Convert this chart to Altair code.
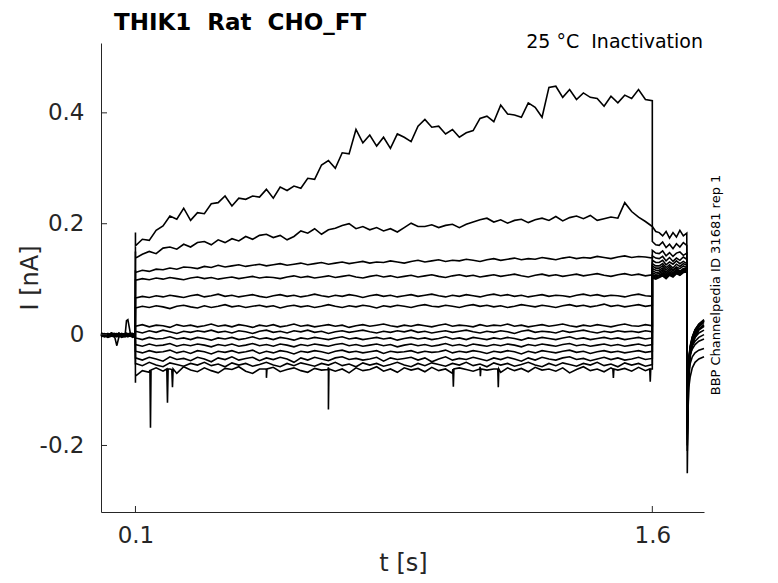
import altair as alt
import pandas as pd

# ---------------- time grids (ms) ----------------
t_pre_ms = [0, 10, 20, 30, 40, 46, 52, 60, 70, 74, 78, 85, 92, 99.5]
t_main_ms = [100, 120, 140, 160, 180, 200, 220, 240, 260, 280,
             300, 320, 340, 360, 380, 400, 420, 440, 460, 480,
             500, 520, 540, 560, 580, 600, 620, 640, 660, 680,
             700, 720, 740, 760, 780, 800, 820, 840, 860, 880,
             900, 920, 940, 960, 980, 1000, 1020, 1040, 1060, 1080,
             1100, 1120, 1140, 1160, 1180, 1200, 1220, 1240, 1260, 1280,
             1300, 1320, 1340, 1360, 1380, 1400, 1420, 1440, 1460, 1480,
             1500, 1520, 1540, 1560, 1580, 1600]
t_post_ms = [1600, 1610, 1620, 1630, 1640, 1650, 1660, 1670, 1680, 1690, 1700]
t_tail_ms = [1701.5, 1703.5, 1706, 1710, 1716, 1724, 1735, 1750]

# ---------------- sweep currents during the 0.1-1.6 s step (pA) ----------------
s01_main = [160,172,170,188,196,214,208,228,206,220,
            218,236,238,250,232,246,244,250,248,262,
            246,266,260,268,264,282,280,306,314,300,
            328,326,370,346,360,340,356,336,362,356,
            348,376,388,374,376,362,370,356,364,368,
            390,394,384,414,398,396,392,418,410,392,
            446,448,428,442,424,436,428,426,412,430,
            418,432,426,442,424,422]
s02_main = [138,145,150,146,156,158,154,163,158,166,
            168,162,171,166,173,169,177,172,179,181,
            175,179,171,177,187,183,191,181,189,192,
            197,200,191,195,189,193,187,191,185,193,
            201,195,195,198,193,197,199,193,199,203,
            207,210,203,207,201,206,208,202,207,210,
            206,213,205,211,214,209,215,206,209,212,
            210,238,222,212,204,195]
s03_main = [112,116,114,118,117,120,118,122,121,119,
            123,121,125,122,124,126,123,125,127,124,
            126,128,125,127,129,126,128,130,127,129,
            131,128,130,132,129,131,130,133,131,129,
            132,134,131,133,135,132,134,133,136,134,
            132,135,137,134,136,138,135,137,136,139,
            137,135,138,140,137,139,138,141,139,137,
            140,142,139,141,140,138]
s04_main = [98,101,99,102,100,103,101,99,102,104,
            101,103,100,102,104,101,103,105,102,104,
            103,101,104,106,103,105,102,104,106,103,
            105,107,104,102,105,107,104,106,103,105,
            107,104,106,108,105,103,106,108,105,107,
            104,106,108,105,107,109,106,104,107,109,
            106,108,105,107,109,106,108,110,107,105,
            108,110,107,109,106,108]
s05_main = [66,69,67,70,68,71,69,67,70,72,
            68,70,73,69,71,68,70,72,69,67,
            70,72,69,71,68,70,73,70,68,71,
            69,72,70,67,70,72,69,71,68,70,
            72,69,71,73,70,68,71,69,72,70,
            68,71,73,70,72,69,71,68,70,72,
            69,71,70,68,71,73,70,72,69,71,
            70,68,71,73,70,69]
s06_main = [48,51,49,52,50,47,51,53,50,48,
            52,49,51,54,50,52,49,51,53,50,
            52,48,51,53,50,52,49,51,54,51,
            49,52,50,53,51,48,52,50,53,51,
            49,52,54,51,50,53,51,49,52,54,
            51,53,50,52,49,51,54,52,50,53,
            51,49,52,54,51,53,50,52,55,51,
            53,50,52,54,51,53]
s07_main = [15,18,14,17,16,13,18,15,17,14,
            16,19,15,17,14,18,16,13,17,15,
            18,14,16,19,15,17,14,16,18,15,
            17,13,16,18,15,17,19,16,14,17,
            15,18,16,14,17,19,15,17,16,14,
            18,15,17,16,19,15,17,14,16,18,
            15,17,19,16,14,17,15,18,16,14,
            17,19,16,15,18,16]
s08_main = [6,3,7,4,8,5,2,6,4,7,
            5,8,4,6,3,7,5,2,6,8,
            4,6,3,7,5,8,4,6,2,5,
            7,4,6,8,5,3,6,4,7,5,
            8,4,6,3,5,7,4,6,8,5,
            3,6,4,7,5,2,6,8,4,6,
            5,3,7,4,6,8,5,3,6,4,
            7,5,6,4,7,5]
s09_main = [-6,-9,-5,-8,-7,-4,-8,-6,-9,-5,
            -7,-10,-6,-8,-5,-9,-7,-4,-8,-6,
            -9,-5,-7,-10,-6,-8,-5,-7,-9,-6,
            -4,-8,-6,-9,-7,-5,-8,-6,-10,-7,
            -5,-8,-6,-9,-7,-4,-8,-6,-9,-5,
            -7,-9,-6,-8,-5,-7,-10,-6,-8,-5,
            -7,-9,-6,-4,-8,-6,-9,-7,-5,-8,
            -6,-9,-7,-5,-8,-6]
s10_main = [-18,-21,-17,-20,-19,-16,-21,-18,-20,-17,
            -19,-22,-18,-20,-17,-21,-19,-16,-20,-18,
            -21,-17,-19,-22,-18,-20,-17,-19,-21,-18,
            -16,-20,-18,-21,-19,-17,-20,-18,-22,-19,
            -17,-20,-18,-21,-19,-16,-20,-18,-21,-17,
            -19,-21,-18,-20,-17,-19,-22,-18,-20,-17,
            -19,-21,-18,-16,-20,-18,-21,-19,-17,-20,
            -18,-21,-19,-17,-20,-18]
s11_main = [-30,-33,-29,-32,-31,-28,-33,-30,-34,-29,
            -31,-35,-30,-32,-29,-33,-31,-28,-34,-30,
            -33,-29,-31,-35,-30,-32,-29,-31,-34,-30,
            -28,-32,-30,-33,-31,-29,-34,-30,-32,-31,
            -29,-33,-30,-32,-31,-28,-33,-30,-32,-29,
            -31,-34,-30,-32,-29,-31,-35,-30,-33,-29,
            -31,-33,-30,-28,-32,-30,-34,-31,-29,-32,
            -30,-33,-31,-29,-32,-30]
s12_main = [-42,-46,-41,-44,-48,-40,-45,-43,-47,-41,
            -44,-49,-42,-45,-40,-46,-43,-41,-47,-42,
            -45,-41,-44,-50,-42,-46,-41,-44,-47,-42,
            -40,-45,-43,-46,-44,-41,-48,-42,-45,-43,
            -41,-46,-42,-49,-44,-40,-46,-43,-45,-41,
            -44,-47,-42,-45,-41,-44,-48,-42,-46,-41,
            -44,-46,-42,-40,-45,-43,-47,-44,-41,-45,
            -42,-46,-44,-41,-45,-43]
s13_main = [-52,-56,-50,-55,-58,-51,-54,-57,-52,-55,
            -50,-56,-53,-58,-51,-55,-52,-57,-54,-50,
            -55,-58,-52,-56,-51,-54,-57,-52,-55,-50,
            -56,-53,-58,-51,-55,-52,-57,-54,-50,-55,
            -58,-52,-56,-51,-54,-57,-52,-55,-50,-56,
            -53,-58,-51,-55,-52,-57,-54,-50,-55,-58,
            -52,-56,-51,-54,-57,-52,-55,-50,-56,-53,
            -58,-51,-55,-52,-57,-54]
s14_main = [-75,-65,-68,-60,-66,-62,-70,-58,-64,-67,
            -60,-65,-69,-61,-63,-58,-66,-70,-62,-64,
            -59,-67,-63,-60,-65,-68,-61,-64,-59,-66,
            -62,-69,-60,-65,-63,-58,-66,-62,-68,-60,
            -64,-61,-67,-59,-65,-62,-70,-60,-63,-66,
            -58,-64,-62,-68,-60,-65,-61,-67,-59,-64,
            -62,-66,-60,-69,-63,-58,-65,-62,-67,-60,
            -64,-61,-66,-59,-65,-62]

main_pA = [s01_main, s02_main, s03_main, s04_main, s05_main, s06_main, s07_main,
           s08_main, s09_main, s10_main, s11_main, s12_main, s13_main, s14_main]

# capacitive transient value at step onset (t = 0.1 s)
onset_pA = [184, 150, 116, 100, 68, 50, 16, 6, -6, -18, -30, -42, -54, -87]

# holding before the step (pA)
pre_pA = [
    [0,2,-1,3,1,-2,2,0,-1,25,27,3,1,-2],
    [-1,1,-3,0,2,-1,1,-2,0,2,-1,1,-3,0],
    [1,-2,0,2,-1,1,-3,1,2,0,-2,1,0,2],
    [-2,0,1,-1,-3,0,2,-1,1,-2,0,3,-1,1],
    [0,-3,1,0,-2,2,-1,0,-3,1,-1,0,2,-1],
    [2,0,-2,1,0,-3,1,2,-1,0,1,-2,0,1],
    [-3,-1,0,-2,1,-1,-4,0,-2,1,-1,-3,0,-2],
    [1,-1,2,-2,0,1,-1,-3,0,2,0,-1,1,-1],
    [-1,-4,-2,0,-3,-1,0,-2,-4,-1,-3,0,-2,-3],
    [0,1,-1,2,-2,0,3,-1,1,-2,2,0,-1,0],
    [-2,0,-3,-1,1,-2,-1,-3,0,-1,-2,1,-3,-1],
    [3,1,0,2,-1,1,0,2,1,-1,0,2,1,0],
    [-4,-2,-5,-3,-1,-4,-2,-5,-3,-1,-4,-2,-5,-3],
    [-1,-3,0,-2,-5,-20,-4,-2,-1,-3,0,-2,-4,-2],
]

# test pulse after the step, 1.6-1.7 s (pA)
post_pA = [
    [195,186,184,178,186,174,184,176,188,178,183],
    [168,162,161,167,157,163,155,164,158,166,161],
    [152,147,146,151,142,148,141,147,149,143,147],
    [142,138,137,141,133,139,132,138,134,140,136],
    [134,130,130,134,126,131,127,133,128,132,128],
    [128,124,124,128,121,126,120,127,123,128,125],
    [124,120,120,124,117,123,116,122,119,124,121],
    [119,116,116,120,113,119,115,120,114,119,120],
    [115,112,113,117,110,116,112,117,113,118,118],
    [111,109,110,114,107,113,110,115,111,116,117],
    [108,106,107,111,105,111,108,113,110,115,116],
    [106,104,106,109,103,109,107,112,109,114,115],
    [104,102,104,107,102,108,105,111,108,113,114],
    [102,100,103,106,101,107,104,110,107,112,113],
]

# tail after return to holding (pA)
tail_pA = [
    [-250,-140,-70,-40,-20,-5,8,15],
    [-210,-120,-65,-35,-18,-3,10,18],
    [-190,-110,-60,-30,-12,2,14,22],
    [-170,-100,-55,-28,-10,5,16,25],
    [-160,-95,-50,-25,-8,6,17,24],
    [-150,-90,-48,-24,-6,8,18,26],
    [-140,-85,-45,-22,-5,9,19,27],
    [-135,-82,-43,-20,-4,8,18,25],
    [-130,-80,-44,-24,-10,2,10,16],
    [-125,-78,-46,-28,-15,-5,3,8],
    [-120,-76,-48,-32,-20,-12,-5,0],
    [-115,-75,-50,-36,-26,-18,-12,-8],
    [-180,-110,-75,-52,-40,-33,-28,-25],
    [-200,-140,-95,-76,-60,-50,-44,-40],
]

# narrow downward spikes on the lowest sweep
spike_t_ms = [142.0, 143.6, 145.2, 191.0, 192.9, 194.8, 205.5, 207.4, 209.3,
              478.5, 480.1, 481.7, 658.5, 660.0, 661.5, 1021.0, 1022.6, 1024.2,
              1099.5, 1101.0, 1102.5, 1151.5, 1153.0, 1154.5, 1485.5, 1487.0, 1488.5,
              1592.5, 1594.0, 1595.5]
spike_pA = [-64, -168, -64, -62, -123, -62, -63, -95, -62,
            -62, -78, -62, -63, -135, -62, -62, -94, -62,
            -62, -75, -62, -62, -95, -62, -62, -78, -62,
            -62, -85, -62]
spike_sweep_index = 13

# axes
x_ticks = [0.1, 1.6]
x_tick_labels = ["0.1", "1.6"]
y_ticks = [-0.2, 0, 0.2, 0.4]
y_tick_labels = ["-0.2", "0", "0.2", "0.4"]

# ---------------- build long table ----------------
rows = []
for k in range(len(main_pA)):
    assert len(main_pA[k]) == len(t_main_ms), (k, len(main_pA[k]))
    assert len(pre_pA[k]) == len(t_pre_ms), k
    assert len(post_pA[k]) == len(t_post_ms), k
    assert len(tail_pA[k]) == len(t_tail_ms), k
    pts = []
    pts += [(t, 0, v) for t, v in zip(t_pre_ms, pre_pA[k])]
    pts.append((100, 1, onset_pA[k]))
    pts += [(t, 2, v) for t, v in zip(t_main_ms, main_pA[k])]
    if k == spike_sweep_index:
        pts += [(t, 2, v) for t, v in zip(spike_t_ms, spike_pA)]
    pts += [(t, 3, v) for t, v in zip(t_post_ms, post_pA[k])]
    pts += [(t, 4, v) for t, v in zip(t_tail_ms, tail_pA[k])]
    pts.sort(key=lambda p: (p[0], p[1]))
    for i, (t, s, v) in enumerate(pts):
        rows.append({"sweep": k + 1, "i": i, "t": t / 1000.0, "I": v / 1000.0})
df = pd.DataFrame(rows)

AX = "#262626"
FONT = "DejaVu Sans"
W, H = 603, 469


def label_expr(vals, labels):
    parts = [f"abs(datum.value - ({v})) < 1e-6 ? '{l}'" for v, l in zip(vals, labels)]
    return " : ".join(parts) + " : ''"


x_enc = alt.X("t:Q",
              scale=alt.Scale(domain=[0, 1.75], nice=False, zero=False),
              axis=alt.Axis(values=x_ticks, labelExpr=label_expr(x_ticks, x_tick_labels),
                            title="t [s]", ticks=False, tickSize=0, grid=False,
                            labelPadding=12, labelFontSize=23, labelFont=FONT, labelColor=AX,
                            domainColor=AX, domainWidth=1,
                            titleFontSize=24, titleFont=FONT, titleFontWeight="normal",
                            titleColor=AX, titleX=302, titleY=58, titleAlign="center",
                            titleBaseline="alphabetic"))
y_enc = alt.Y("I:Q",
              scale=alt.Scale(domain=[-0.32, 0.526], nice=False, zero=False),
              axis=alt.Axis(values=y_ticks, labelExpr=label_expr(y_ticks, y_tick_labels),
                            title="I [nA]", ticks=False, tickSize=0, grid=False,
                            labelPadding=17, labelFontSize=23, labelFont=FONT, labelColor=AX,
                            domainColor=AX, domainWidth=1,
                            titleFontSize=24, titleFont=FONT, titleFontWeight="normal",
                            titleColor=AX, titleX=-71, titleY=234.5, titleAngle=270,
                            titleAlign="center", titleBaseline="middle"))

lines = alt.Chart(df).mark_line(color="black", strokeWidth=1.6, strokeJoin="miter").encode(
    x=x_enc, y=y_enc, detail="sweep:N", order="i:Q")

xt = alt.Chart(pd.DataFrame({"t": x_ticks})).mark_rule(color=AX, strokeWidth=1).encode(
    x=alt.X("t:Q"), y=alt.value(H), y2=alt.value(H - 6))
yt = alt.Chart(pd.DataFrame({"I": y_ticks})).mark_rule(color=AX, strokeWidth=1).encode(
    y=alt.Y("I:Q"), x=alt.value(0), x2=alt.value(6))

title_txt = alt.Chart(pd.DataFrame({"s": ["THIK1\u00a0 Rat\u00a0 CHO_FT"]})).mark_text(
    align="left", baseline="alphabetic", fontSize=23, fontWeight="bold", font=FONT,
    color="black").encode(x=alt.value(13), y=alt.value(-13), text="s:N")
cond_txt = alt.Chart(pd.DataFrame({"s": ["25 °C\u00a0 Inactivation"]})).mark_text(
    align="right", baseline="alphabetic", fontSize=19, font=FONT,
    color="black").encode(x=alt.value(602), y=alt.value(5), text="s:N")
id_txt = alt.Chart(pd.DataFrame({"s": ["BBP Channelpedia ID 31681 rep 1"]})).mark_text(
    align="center", baseline="middle", fontSize=13, font=FONT, angle=270,
    color="black").encode(x=alt.value(615), y=alt.value(242), text="s:N")

chart = alt.layer(lines, xt, yt, title_txt, cond_txt, id_txt).properties(
    width=W, height=H,
    padding={"left": 93, "top": 35, "right": 66, "bottom": 63},
    autosize=alt.AutoSizeParams(type="none"),
).configure_view(stroke=None)

chart.save("out.html", embed_options={"renderer": "svg", "actions": False})
